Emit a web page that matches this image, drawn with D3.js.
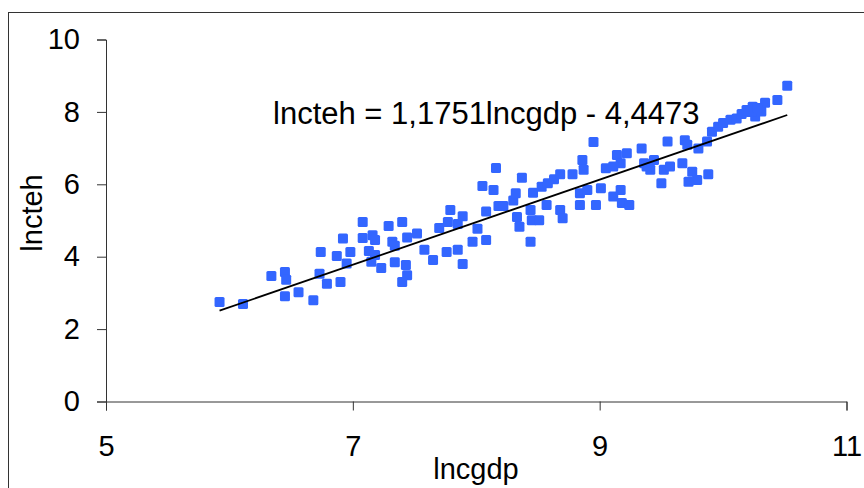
<!DOCTYPE html>
<html>
<head>
<meta charset="utf-8">
<script src="https://cdn.jsdelivr.net/npm/d3@7"></script>
<style>
  body { margin: 0; background: #fff; }
  svg { display: block; font-family: "Liberation Sans", Arial, sans-serif; }
</style>
</head>
<body>
<svg id="chart" width="864" height="488"></svg>
<script>
// lncgdp / lncteh pairs
const lncgdp = [5.92,6.11,6.34,6.45,6.46,6.45,6.56,6.68,6.73,6.79,6.90,6.74,6.87,6.92,6.98,6.95,7.08,7.08,7.16,7.18,7.13,7.18,7.15,7.23,7.29,7.40,7.32,7.34,7.34,7.44,7.43,7.44,7.40,7.52,7.58,7.65,7.76,7.79,7.89,7.70,7.77,7.85,7.85,7.89,7.97,8.01,8.05,8.14,8.16,8.08,8.08,
  8.18,8.22,8.30,8.32,8.37,8.33,8.35,8.44,8.45,8.51,8.44,8.46,8.53,8.58,8.63,8.57,8.68,8.68,8.70,8.78,8.86,8.87,8.95,8.84,8.84,8.90,8.97,9.01,9.05,9.11,9.17,9.18,9.24,9.14,9.22,9.17,9.11,
  9.34,9.36,9.44,9.41,9.38,9.52,9.57,9.50,9.55,9.67,9.69,9.71,9.75,9.79,9.72,9.80,9.87,9.88,9.91,9.96,10.00,10.06,10.11,10.19,10.24,10.26,10.31,10.34,10.44,10.52,10.15,10.22,10.28];
const lncteh = [2.75,2.69,3.47,3.58,3.36,2.91,3.02,2.80,3.53,3.25,3.30,4.13,4.02,4.50,4.13,3.81,4.96,4.52,4.59,4.46,4.16,4.05,3.86,3.69,4.85,4.96,4.41,4.30,3.85,4.53,3.77,3.49,3.30,4.64,4.19,3.91,4.13,5.29,5.12,4.79,4.96,4.90,4.19,3.80,4.41,4.77,5.95,5.84,6.45,5.25,4.46,
  5.40,5.40,5.55,5.75,6.18,5.10,4.83,5.29,5.01,5.01,4.41,5.77,5.93,6.03,6.14,5.43,6.28,5.29,5.06,6.28,6.67,6.40,7.17,5.43,5.75,5.84,5.43,5.89,6.44,5.66,5.84,5.48,5.43,6.81,6.86,6.58,6.49,
  6.99,6.58,6.67,6.40,6.49,6.40,6.49,6.03,7.18,6.58,7.22,7.09,6.35,6.12,6.07,6.99,7.18,6.28,7.45,7.59,7.69,7.78,7.82,8.05,8.14,7.87,8.01,8.25,8.33,8.72,7.94,8.00,8.11];

const xTicks = [5, 7, 9, 11];
const yTicks = [0, 2, 4, 6, 8, 10];

// trend line from the chart label
const slope = 1.1751, intercept = -4.4473;
const equation = "lncteh = 1,1751lncgdp - 4,4473";

const svg = d3.select("#chart");

// outer chart border (runs off the right / bottom edge like the source)
svg.append("rect")
  .attr("x", 8.5).attr("y", 12.5)
  .attr("width", 900).attr("height", 520)
  .attr("fill", "none").attr("stroke", "#333").attr("stroke-width", 1);

const xScale = d3.scaleLinear().domain([5, 11]).range([106, 846.5]);
const yScale = d3.scaleLinear().domain([0, 10]).range([401.5, 39.5]);

const xAxis = svg.append("g")
  .attr("transform", `translate(0,${yScale(0)})`)
  .call(d3.axisBottom(xScale).tickValues(xTicks).tickSize(9).tickPadding(35).tickFormat(d3.format("d")));

const yAxis = svg.append("g")
  .attr("transform", `translate(${xScale(5)},0)`)
  .call(d3.axisLeft(yScale).tickValues(yTicks).tickSize(9).tickPadding(17).tickFormat(d3.format("d")));

[xAxis, yAxis].forEach(a => {
  a.select(".domain").attr("stroke", "#333").attr("stroke-width", 1);
  a.selectAll(".tick line").attr("stroke", "#333");
  a.selectAll("text").attr("font-size", 29).attr("fill", "#000")
    .style("font-family", '"Liberation Sans", Arial, sans-serif');
});
xAxis.selectAll("text").attr("dy", "0.35em");

// points
svg.append("g").selectAll("rect")
  .data(lncgdp.map((d, i) => [d, lncteh[i]]))
  .join("rect")
  .attr("x", d => xScale(d[0]) - 5)
  .attr("y", d => yScale(d[1]) - 5)
  .attr("width", 10).attr("height", 10)
  .attr("rx", 1.5)
  .attr("fill", "#3366ff");

// trend line across the data range
const ext = d3.extent(lncgdp);
svg.append("line")
  .attr("x1", xScale(ext[0])).attr("y1", yScale(slope * ext[0] + intercept))
  .attr("x2", xScale(ext[1])).attr("y2", yScale(slope * ext[1] + intercept))
  .attr("stroke", "#000").attr("stroke-width", 1.8);

svg.append("text")
  .attr("x", 273).attr("y", 124)
  .attr("font-size", 31)
  .text(equation);

// axis titles
svg.append("text")
  .attr("x", 476).attr("y", 479)
  .attr("text-anchor", "middle")
  .attr("font-size", 29)
  .text("lncgdp");

svg.append("text")
  .attr("transform", "translate(42,213) rotate(-90)")
  .attr("text-anchor", "middle")
  .attr("font-size", 29)
  .text("lncteh");
</script>
</body>
</html>
